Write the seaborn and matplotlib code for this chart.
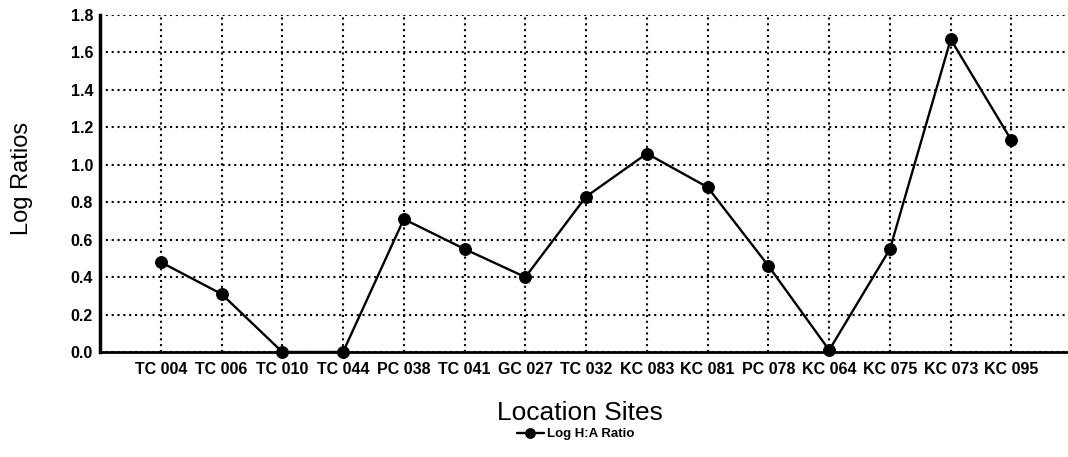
import matplotlib
matplotlib.use("Agg")
import matplotlib.pyplot as plt
import seaborn as sns
import pandas as pd
from matplotlib.ticker import MultipleLocator, FormatStrFormatter

sites = ["TC 004", "TC 006", "TC 010", "TC 044", "PC 038", "TC 041", "GC 027",
         "TC 032", "KC 083", "KC 081", "PC 078", "KC 064", "KC 075", "KC 073", "KC 095"]
log_ratios = [0.48, 0.31, 0.0, 0.0, 0.71, 0.55, 0.40, 0.83, 1.06, 0.88, 0.46, 0.01,
              0.55, 1.67, 1.13]
series_name = "Log H:A Ratio"
x_title = "Location Sites"
y_title = "Log Ratios"

df = pd.DataFrame({"site": sites, "value": log_ratios})

sns.set_style("white")
plt.rcParams["font.family"] = ["Liberation Sans", "DejaVu Sans"]
plt.rcParams["text.color"] = "black"
plt.rcParams["xtick.color"] = "black"
plt.rcParams["ytick.color"] = "black"

fig = plt.figure(figsize=(10.68, 4.57), dpi=100)
ax = fig.add_axes([100 / 1068, 1 - 352 / 457, 1 - 100 / 1068, (352 - 15) / 457])

sns.lineplot(data=df, x="site", y="value", marker="o", color="black",
             linewidth=1.7, markersize=8.5, markeredgecolor="black",
             label=series_name, ax=ax, sort=False, clip_on=False, zorder=5)

ax.set_xlim(-1, 14.93)
ax.set_ylim(0, 1.8)
ax.yaxis.set_major_locator(MultipleLocator(0.2))
ax.yaxis.set_major_formatter(FormatStrFormatter("%.1f"))

ax.grid(True, color="black", linestyle=(0, (1, 1.8)), linewidth=1.5)
for s in ["top", "right"]:
    ax.spines[s].set_visible(False)
ax.spines["left"].set_linewidth(2.5)
ax.spines["bottom"].set_linewidth(2.0)
ax.spines["left"].set_color("black")
ax.spines["bottom"].set_color("black")
ax.tick_params(axis="both", direction="inout", length=6, width=1.6, colors="black",
               labelsize=11.5)
ax.tick_params(axis="x", pad=4)
ax.tick_params(axis="y", pad=2)
for lab in ax.get_xticklabels() + ax.get_yticklabels():
    lab.set_fontweight("bold")
    lab.set_color("black")

ax.set_xlabel("")
ax.set_ylabel("")
fig.text(22 / 1068, 1 - 178 / 457, y_title, rotation=90, ha="center", va="center",
         fontsize=17, color="black")
fig.text(580 / 1068, 1 - 413 / 457, x_title, ha="center", va="center", fontsize=19,
         color="black")

ax.legend_.remove()
handles, labels = ax.get_legend_handles_labels()
leg = fig.legend(handles, labels, loc="center", bbox_to_anchor=(576 / 1068, 1 - 434 / 457),
                 frameon=False, prop={"size": 9.5, "weight": "bold"},
                 handlelength=2.0, handletextpad=0.3, borderpad=0, labelcolor="black")
for h in leg.legend_handles:
    h.set_markersize(7)

fig.savefig("out.png", dpi=100)
